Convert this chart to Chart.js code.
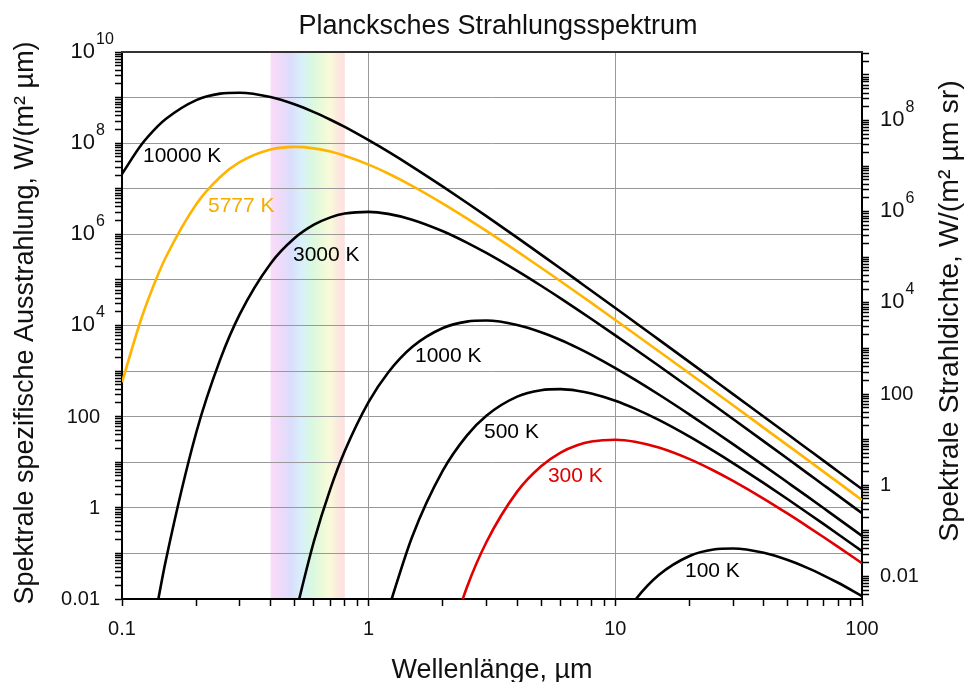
<!DOCTYPE html>
<html>
<head>
<meta charset="utf-8">
<title>Plancksches Strahlungsspektrum</title>
<script src="https://cdn.jsdelivr.net/npm/chart.js@4.4.1/dist/chart.umd.min.js"></script>
<style>
  html, body { margin: 0; padding: 0; background: #fff; overflow: hidden; }
  #wrap { position: relative; width: 966px; height: 682px; }
</style>
</head>
<body>
<div id="wrap"><canvas id="chart"></canvas></div>
<script>
// Wellenlaenge in µm
const wavelengths = [0.1, 0.12, 0.14, 0.15, 0.2, 0.25, 0.3, 0.4, 0.5, 0.6, 0.7, 0.8, 1, 1.2, 1.5, 2, 2.5, 3, 4, 5, 6, 7, 8, 10, 12, 15, 20, 25, 30, 40, 50, 60, 70, 80, 100];

// spezifische Ausstrahlung in W/(m² µm) (null = unter 0.01)
const t10000 = [2.11e7, 9.33e7, 2.39e8, 3.36e8, 8.79e8, 1.22e9, 1.28e9, 1.03e9, 7.14e8, 4.81e8, 3.27e8, 2.27e8, 1.16e8, 6.49e7, 3.06e7, 1.11e7, 4.92e6, 2.50e6, 8.44e5, 3.59e5, 1.78e5, 9.76e4, 5.80e4, 2.42e4, 1.18e4, 4890, 1570, 647, 313, 99.8, 41.0, 19.8, 10.7, 6.29, 2.58];
const t5777 = [571, 1.46e4, 1.31e5, 3.03e5, 4.57e6, 1.81e7, 3.82e7, 7.24e7, 8.28e7, 7.70e7, 6.53e7, 5.31e7, 3.38e7, 2.16e7, 1.16e7, 4.73e6, 2.24e6, 1.19e6, 4.23e5, 1.85e5, 9.35e4, 5.21e4, 3.13e4, 1.32e4, 6520, 2730, 882, 366, 178, 56.9, 23.5, 11.4, 6.15, 3.61, 1.48];
const t3000 = [null, null, 0.00922, 0.0641, 45.0, 1786, 1.756e4, 2.268e5, 8.18e5, 1.626e6, 2.358e6, 2.852e6, 3.117e6, 2.815e6, 2.100e6, 1.169e6, 6.60e5, 3.90e5, 1.577e5, 7.44e4, 3.93e4, 2.26e4, 1.39e4, 6080, 3060, 1308, 432, 181, 88.8, 28.7, 11.9, 5.78, 3.14, 1.85, 0.762];
const t1000 = [null, null, null, null, null, null, null, null, 0.00381, 0.185, 2.64, 17.6, 211, 933, 3364, 8789, 12171, 12829, 10296, 7139, 4811, 3269, 2265, 1164, 649, 306, 111, 49.2, 25.0, 8.44, 3.59, 1.78, 0.976, 0.580, 0.242];
const t500 = [null, null, null, null, null, null, null, null, null, null, null, null, null, 0.00579, 0.230, 6.60, 38.4, 105, 275, 380, 401, 371, 322, 223, 150, 84.8, 36.4, 17.7, 9.57, 3.47, 1.54, 0.782, 0.438, 0.264, 0.112];
const t300 = [null, null, null, null, null, null, null, null, null, null, null, null, null, null, null, 0.00045, 0.0179, 0.176, 2.27, 8.18, 16.3, 23.6, 28.5, 31.2, 28.2, 21.0, 11.7, 6.60, 3.90, 1.58, 0.744, 0.393, 0.226, 0.139, 0.0608];
const t100 = [null, null, null, null, null, null, null, null, null, null, null, null, null, null, null, null, null, null, null, null, null, null, null, 0.00211, 0.00933, 0.0336, 0.0879, 0.122, 0.128, 0.103, 0.0714, 0.0481, 0.0327, 0.0227, 0.0116];

const curveNames = ['10000 K', '5777 K', '3000 K', '1000 K', '500 K', '300 K', '100 K'];
const visibleRange = [0.4, 0.8];

const xTickLabels = [0.1, 1, 10, 100];
const yTickLabels = [0.01, 1, 100, 1e4, 1e6, 1e8, 1e10];
const y2TickLabels = [0.01, 1, 100, 1e4, 1e6, 1e8];

const FONT = '"Liberation Sans", Arial, Helvetica, sans-serif';
const ORANGE = '#ffb400';
const RED = '#e00000';

// where the curve names sit, in data units (left edge, vertical middle)
const nameSpots = [[0.1216, 5.15e7], [0.2232, 4.12e6], [0.4933, 3.47e5], [1.541, 2109], [2.935, 45.3], [5.33, 4.91], [19.16, 0.0404]];
const nameColors = ['#000', '#f5ac00', '#000', '#000', '#000', RED, '#000'];

function points(values) {
  return values.map((v, i) => ({ x: wavelengths[i], y: v })).filter(p => p.y !== null);
}

// 1..9 x 10^n between min and max
function logTicks(min, max) {
  const out = [];
  for (let e = Math.floor(Math.log10(min)); e <= Math.ceil(Math.log10(max)); e++) {
    for (let k = 1; k < 10; k++) {
      const v = k * Math.pow(10, e);
      if (v >= min * 0.9999 && v <= max * 1.0001) out.push(v);
    }
  }
  return out;
}

function isDecade(v) {
  const l = Math.log10(v);
  return Math.abs(l - Math.round(l)) < 1e-6;
}

function decadeGrid(ctx) {
  return ctx.tick && isDecade(ctx.tick.value) ? '#999999' : 'rgba(0,0,0,0)';
}

// y = tick position
function drawNumber(ctx, v, x, y, side) {
  ctx.textBaseline = 'alphabetic';
  if (v >= 1e4) {
    const exp = Math.round(Math.log10(v));
    ctx.font = '22px ' + FONT;
    const w = ctx.measureText('10').width;
    const bx = side === 'left' ? x - 5 - w : x;
    ctx.textAlign = 'left';
    ctx.fillText('10', bx, y + 5.5);
    ctx.font = '16px ' + FONT;
    ctx.fillText(String(exp), bx + w + 1, y - 8.5);
  } else {
    ctx.font = '20px ' + FONT;
    ctx.textAlign = side === 'left' ? 'right' : (side === 'right' ? 'left' : 'center');
    ctx.fillText(String(v), x, y + 6);
  }
}

const decor = {
  id: 'decor',
  beforeDraw(chart) {
    const { ctx, chartArea: a, scales } = chart;
    ctx.save();
    ctx.fillStyle = '#fff';
    ctx.fillRect(0, 0, chart.width, chart.height);
    // sichtbarer Bereich
    const x0 = scales.x.getPixelForValue(visibleRange[0]);
    const x1 = scales.x.getPixelForValue(visibleRange[1]);
    const g = ctx.createLinearGradient(x0, 0, x1, 0);
    g.addColorStop(0.00, 'rgb(250,220,248)');
    g.addColorStop(0.14, 'rgb(238,218,250)');
    g.addColorStop(0.28, 'rgb(218,222,252)');
    g.addColorStop(0.42, 'rgb(216,240,250)');
    g.addColorStop(0.56, 'rgb(218,248,224)');
    g.addColorStop(0.70, 'rgb(236,250,218)');
    g.addColorStop(0.80, 'rgb(250,250,218)');
    g.addColorStop(0.90, 'rgb(252,234,222)');
    g.addColorStop(1.00, 'rgb(252,224,226)');
    ctx.fillStyle = g;
    ctx.fillRect(x0, a.top, x1 - x0, a.bottom - a.top);
    ctx.restore();
  },
  afterDraw(chart) {
    const { ctx, chartArea: a, scales } = chart;
    ctx.save();
    // obere Rahmenlinie
    ctx.strokeStyle = '#333';
    ctx.lineWidth = 2;
    ctx.beginPath();
    ctx.moveTo(a.left - 1, a.top);
    ctx.lineTo(a.right + 1, a.top);
    ctx.stroke();

    ctx.fillStyle = '#111';
    yTickLabels.forEach(v => drawNumber(ctx, v, 100, scales.y.getPixelForValue(v), 'left'));
    y2TickLabels.forEach(v => drawNumber(ctx, v, 880, scales.y2.getPixelForValue(v), 'right'));
    xTickLabels.forEach(v => drawNumber(ctx, v, scales.x.getPixelForValue(v), 629, 'center'));

    // Kurvennamen
    ctx.font = '21px ' + FONT;
    ctx.textAlign = 'left';
    ctx.textBaseline = 'middle';
    curveNames.forEach((name, i) => {
      ctx.fillStyle = nameColors[i];
      ctx.fillText(name, scales.x.getPixelForValue(nameSpots[i][0]), scales.y.getPixelForValue(nameSpots[i][1]));
    });

    // Titel und Achsentitel
    ctx.fillStyle = '#111';
    ctx.textBaseline = 'alphabetic';
    ctx.textAlign = 'center';
    ctx.font = '27px ' + FONT;
    ctx.fillText('Plancksches Strahlungsspektrum', 498, 34);
    ctx.fillText('Wellenlänge, µm', (a.left + a.right) / 2, 678);

    ctx.save();
    ctx.translate(33, 323);
    ctx.rotate(-Math.PI / 2);
    ctx.fillText('Spektrale spezifische Ausstrahlung, W/(m² µm)', 0, 0);
    ctx.restore();

    ctx.save();
    ctx.font = '28.5px ' + FONT;
    ctx.translate(958, 311);
    ctx.rotate(-Math.PI / 2);
    ctx.fillText('Spektrale Strahldichte, W/(m² µm sr)', 0, 0);
    ctx.restore();

    ctx.restore();
  }
};

const lineStyle = { borderWidth: 2.6, pointRadius: 0, cubicInterpolationMode: 'monotone', clip: 0 };

new Chart(document.getElementById('chart'), {
  type: 'line',
  data: {
    datasets: [
      { label: curveNames[0], data: points(t10000), borderColor: '#000', ...lineStyle },
      { label: curveNames[1], data: points(t5777), borderColor: ORANGE, ...lineStyle },
      { label: curveNames[2], data: points(t3000), borderColor: '#000', ...lineStyle },
      { label: curveNames[3], data: points(t1000), borderColor: '#000', ...lineStyle },
      { label: curveNames[4], data: points(t500), borderColor: '#000', ...lineStyle },
      { label: curveNames[5], data: points(t300), borderColor: RED, ...lineStyle },
      { label: curveNames[6], data: points(t100), borderColor: '#000', ...lineStyle }
    ]
  },
  options: {
    responsive: true,
    maintainAspectRatio: false,
    animation: false,
    layout: { padding: { top: 52, left: 0, right: 0, bottom: 0 } },
    plugins: { legend: { display: false }, tooltip: { enabled: false } },
    scales: {
      x: {
        type: 'logarithmic',
        position: 'bottom',
        min: 0.1,
        max: 100,
        afterBuildTicks: axis => { axis.ticks = logTicks(0.1, 100).map(v => ({ value: v })); },
        afterFit: axis => { axis.height = 83; },
        ticks: { display: false, autoSkip: false },
        grid: { color: decadeGrid, lineWidth: 1, tickColor: '#000', tickLength: 7, tickWidth: 1.5 },
        border: { color: '#000', width: 2 }
      },
      y: {
        type: 'logarithmic',
        position: 'left',
        min: 0.01,
        max: 1e10,
        afterBuildTicks: axis => { axis.ticks = logTicks(0.01, 1e10).map(v => ({ value: v })); },
        afterFit: axis => { axis.width = 122; },
        ticks: { display: false, autoSkip: false },
        grid: { color: decadeGrid, lineWidth: 1, tickColor: '#000', tickLength: 7, tickWidth: 1.5 },
        border: { color: '#000', width: 2 }
      },
      y2: {
        type: 'logarithmic',
        position: 'right',
        min: 0.01 / Math.PI,
        max: 1e10 / Math.PI,
        afterBuildTicks: axis => { axis.ticks = logTicks(0.01 / Math.PI, 1e10 / Math.PI).map(v => ({ value: v })); },
        afterFit: axis => { axis.width = 104; },
        ticks: { display: false, autoSkip: false },
        grid: { drawOnChartArea: false, tickColor: '#000', tickLength: 7, tickWidth: 1.5 },
        border: { color: '#000', width: 2 }
      }
    }
  },
  plugins: [decor]
});
</script>
</body>
</html>
